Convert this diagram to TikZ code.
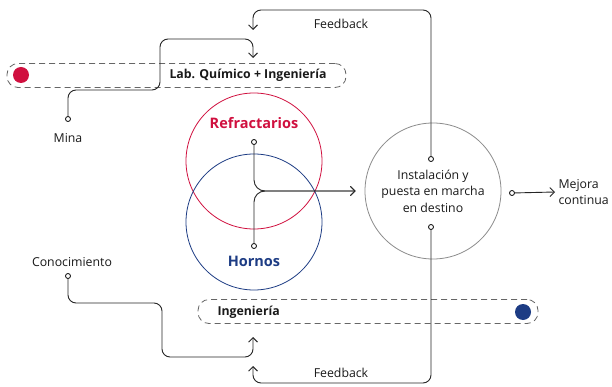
\documentclass[tikz,border=0pt]{standalone}
\usepackage{fontspec}
\setmainfont{Open Sans}
\usetikzlibrary{positioning,arrows.meta}
\definecolor{rojo}{HTML}{D0103F}
\definecolor{azul}{HTML}{1D3C84}
\tikzset{punto/.style={circle,draw,fill=white,inner sep=0pt,minimum size=5pt,line width=0.8pt},
	 flujo/.style={draw=black!85,line width=0.9pt,rounded corners=8pt},
	 franja/.style={draw=black!60,line width=0.8pt,dash pattern=on 6pt off 4pt,rounded corners=11pt,minimum height=24pt},
	 esfera/.style={circle,draw,line width=0.8pt,minimum size=136pt,inner sep=0pt},
	 rotulo/.style={font=\fontsize{12.3}{16.5}\selectfont,text=black!90},
	 node distance = 3pt
	 }

\begin{document}
\begin{tikzpicture}[x=1pt,y=-1pt,>={Straight Barb[length=4.5pt,width=9pt]}] % proceso de refractarios
	\useasboundingbox[fill=white] (0,0) rectangle (612,387);
	\node[franja,minimum width=339pt] (lab) at (176.5,75.5) {};
	\node[franja,minimum width=340pt] (ing) at (368,311.5) {};
	\fill[rojo] (21,75) circle (8);
	\fill[azul] (523,312) circle (8);
	\node[rotulo,font=\fontsize{12.3}{16}\bfseries] at (248,75) {Lab. Químico + Ingeniería};
	\node[rotulo,font=\fontsize{12.3}{16}\bfseries,anchor=west] at (214,312) {Ingeniería};
	\node[esfera,draw=rojo] (refr) at (254,161) {};
	\node[esfera,draw=azul] (horn) at (254,222) {};
	\node[font=\fontsize{14.5}{16}\bfseries,text=rojo] at (254,123) {Refractarios};
	\node[font=\fontsize{14.5}{16}\bfseries,text=azul] at (254,261) {Hornos};
	\node[esfera,draw=black!45,rotulo,align=center] (inst) at (433,191) {Instalación y\\puesta en marcha\\en destino};
	\node[punto] (instA) at (431,159) {};
	\node[punto] (instB) at (431,227) {};
	\node[punto] (mejP) at (512,193) {};
	\node[punto] (refP) at (254,142) {};
	\node[punto] (hornP) at (254,246) {};
	\node[punto] (minaP) at (68,119) {};
	\node[punto] (conoP) at (68,276) {};
	\node[rotulo] (mina) [below=8pt of minaP] {Mina};
	\node[rotulo] (cono) [above=of conoP,xshift=4pt] {Conocimiento};
	\node[rotulo,align=left,anchor=west] (mejora) at (555,192) {Mejora\\continua};
	\node[rotulo] (fbtop) at (341,24) {Feedback};
	\node[rotulo] (fbbot) at (341,373) {Feedback};
	\coordinate (fbA) at (253,30);
	\coordinate (labA) at (253,58);
	\coordinate (ingA) at (253,337);
	\coordinate (fbB) at (253,366);
	\draw[flujo,->] (instA) |- (253,10) -- (fbA);
	\draw[flujo,->] (minaP) |- (160,90) |- (253,39) -- (labA);
	\draw[flujo,->] (conoP) |- (162,303) |- (253,357) -- (ingA);
	\draw[flujo,->] (instB) |- (253,383) -- (fbB);
	\draw[flujo,rounded corners=11pt,->,shorten >=9pt] (refP) |- (inst.west);
	\draw[flujo,rounded corners=11pt,->,shorten >=9pt] (hornP) |- (inst.west);
	\draw[flujo,->] (mejP) -- (mejora.west);
\end{tikzpicture}
\end{document}
